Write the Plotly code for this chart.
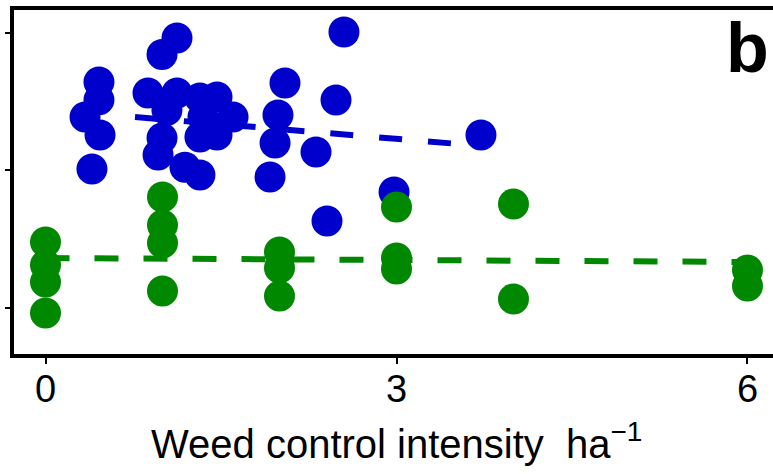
import plotly.graph_objects as go

# ---- data ----
blue_x = [1.124, 0.996, 0.457, 0.457, 0.338, 0.466, 0.397, 0.876, 1.124, 1.038,
          0.996, 0.962, 1.192, 1.320, 1.320, 1.466, 1.603, 1.320, 1.466, 1.346,
          2.047, 1.987, 1.962, 1.919, 2.483, 2.551, 2.312, 2.406, 2.979, 3.722]
blue_y = [1.96, 1.84, 1.64, 1.51, 1.385, 1.255, 1.007, 1.56, 1.56, 1.435,
          1.233, 1.109, 1.02, 0.964, 1.524, 1.531, 1.385, 1.24, 1.255, 1.385,
          1.633, 1.40, 1.196, 0.949, 1.509, 2.004, 1.131, 0.629, 0.84, 1.255]

green_x = [0, 0, 0, 0, 1, 1, 1, 1, 2, 2, 2, 3, 3, 3, 4, 4, 6, 6]
green_y = [0.476, 0.309, 0.185, -0.04, 0.804, 0.60, 0.469, 0.12,
           0.404, 0.287, 0.084, 0.731, 0.36, 0.28, 0.753, 0.062, 0.273, 0.156]

blue_fit_x = [0.765, 3.53]
blue_fit_y = [1.385, 1.189]
green_fit_x = [0, 6]
green_fit_y = [0.36, 0.331]

x_ticks = [0, 3, 6]
x_tick_labels = ["0", "3", "6"]
y_ticks = [0, 1, 2]

BLUE = "#0000CC"
GREEN = "#008800"
FONT = "Arial, Liberation Sans, sans-serif"

fig = go.Figure()
fig.add_trace(go.Scatter(x=blue_fit_x, y=blue_fit_y, mode="lines",
                         line=dict(color=BLUE, width=6, dash="23px,26px"),
                         hoverinfo="skip"))
fig.add_trace(go.Scatter(x=green_fit_x, y=green_fit_y, mode="lines",
                         line=dict(color=GREEN, width=6, dash="24px,25px"),
                         hoverinfo="skip"))
fig.add_trace(go.Scatter(x=blue_x, y=blue_y, mode="markers",
                         marker=dict(color=BLUE, size=31, line=dict(width=0))))
fig.add_trace(go.Scatter(x=green_x, y=green_y, mode="markers",
                         marker=dict(color=GREEN, size=31, line=dict(width=0))))

fig.update_layout(
    width=773, height=474,
    margin=dict(l=14, r=0, t=10, b=120),
    paper_bgcolor="white", plot_bgcolor="white",
    showlegend=False,
    font=dict(family=FONT, color="black"),
    xaxis=dict(range=[-0.2692, 6.218], tickvals=x_ticks, ticktext=x_tick_labels,
               showgrid=False, zeroline=False,
               showline=True, linecolor="black", linewidth=4, mirror=True,
               ticks="outside", ticklen=6, tickwidth=1.5, tickcolor="black",
               ticklabelstandoff=-8,
               tickfont=dict(size=38, family=FONT)),
    yaxis=dict(range=[-0.3382, 2.1636], tickvals=y_ticks,
               showticklabels=False, showgrid=False, zeroline=False,
               showline=True, linecolor="black", linewidth=4, mirror=False,
               ticks="outside", ticklen=5, tickwidth=1.5, tickcolor="black"),
)

fig.add_annotation(x=3, xref="x", y=-0.252, yref="paper",
                   text="Weed control intensity  ha<sup>\u22121</sup>",
                   showarrow=False, xanchor="center", yanchor="middle",
                   font=dict(size=40, family=FONT, color="black"))
fig.add_annotation(x=6.004, xref="x", y=1.887, yref="y",
                   text="<b>b</b>", showarrow=False, xanchor="center", yanchor="middle",
                   font=dict(size=70, family=FONT, color="black"))

fig.write_html("out.html")
